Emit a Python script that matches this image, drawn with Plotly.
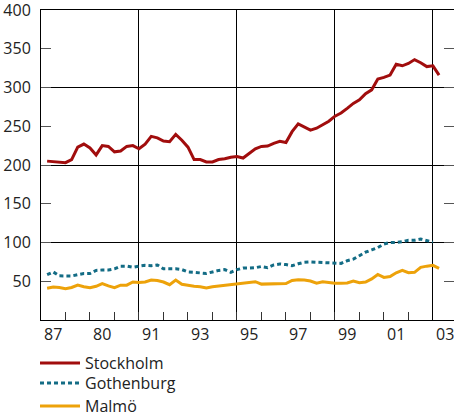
import plotly.graph_objects as go

# Quarterly data, 1987Q1 .. 2003Q1 (plotted at end of quarter)
start_year = 1987
stockholm = [205, 204.5, 204, 203, 207, 223, 227, 222, 213, 225, 224, 217, 218, 224, 225, 221,
             227, 237, 235, 231, 230, 239.5, 232, 223, 207, 207, 204, 204, 207, 208, 210, 211,
             209, 215, 221, 224, 224.5, 228, 230.5, 229, 243, 253, 249, 245, 247.5, 252, 256.5, 263,
             267, 273, 279.5, 284, 292, 297, 311, 313, 316, 330, 328, 331, 336, 332, 327, 328, 316]
gothenburg = [58.5, 62, 57, 56.5, 56.8, 58.5, 60, 60, 64, 64.5, 64.5, 66, 69.5, 69.5, 68, 69.5,
              70.5, 70, 71, 66, 66, 66, 65, 62, 61.5, 61, 60, 62, 64, 65, 61.5, 65,
              67, 67, 67.5, 69, 67.5, 71, 72.3, 71.5, 70, 72.5, 74.5, 75, 74.5, 74, 73.5, 72.7,
              73, 76.5, 78.5, 83, 87.5, 90.5, 93.5, 98, 100, 100, 101, 103, 103, 104.5, 102, 100.5]
malmo = [41, 42.5, 42, 40.5, 42, 45, 43, 41.7, 43.5, 47, 44, 41.7, 45, 45, 49, 48.5,
         49, 51.5, 51, 49, 45.5, 51.5, 46, 44.5, 43.5, 43, 41.3, 43, 44, 45, 45.5, 47.3,
         48, 48.8, 49.4, 46.3, 46.5, 47, 46.3, 47, 51, 52, 51.5, 50.3, 47.5, 49.4, 48.5, 47.3,
         47.5, 47.7, 50.3, 48, 49, 53, 58.7, 55, 56, 61, 64, 61, 61.5, 68, 69.5, 70.5, 66.7]

# note: the second label in the source reads "80"
x_label_years = [1987, 1989, 1991, 1993, 1995, 1997, 1999, 2001, 2003]
x_tick_labels = ["87", "80", "91", "93", "95", "97", "99", "01", "03"]
x_grid_years = [1991, 1995, 1999, 2003]
y_tick_values = [50, 100, 150, 200, 250, 300, 350, 400]
y_grid_values = [100, 200, 300]

n = len(stockholm)
t = [start_year + (i + 1) * 0.25 for i in range(n)]

x_range = [1987, 2003.86]
font = "Open Sans, Noto Sans, sans-serif"
txt = "#222222"

fig = go.Figure()
fig.add_trace(go.Scatter(x=t, y=stockholm, name="Stockholm", mode="lines",
                         line=dict(color="#a10d0d", width=3), legend="legend"))
fig.add_trace(go.Scatter(x=t, y=gothenburg, name="Gothenburg", mode="lines",
                         line=dict(color="#136c85", width=3, dash="4px,3px"),
                         legend="legend2"))
fig.add_trace(go.Scatter(x=t, y=malmo, name="Malmö", mode="lines", xaxis="x2",
                         line=dict(color="#eda20a", width=3), legend="legend3"))

leg_common = dict(x=-0.0145, xanchor="left", yanchor="middle",
                  font=dict(size=16, color=txt), itemwidth=40,
                  bgcolor="rgba(0,0,0,0)")

fig.update_layout(
    width=454, height=417,
    margin=dict(l=41, r=0, t=10, b=97, autoexpand=False),
    paper_bgcolor="white", plot_bgcolor="white",
    font=dict(family=font, size=16, color=txt),
    showlegend=True,
    legend=dict(y=-0.1387, **leg_common),
    legend2=dict(y=-0.2032, **leg_common),
    legend3=dict(y=-0.2774, **leg_common),
    xaxis=dict(
        range=x_range, tickmode="array", automargin=False, ticklabeloverflow="allow",
        tickvals=[y + 0.5 for y in x_label_years], ticktext=x_tick_labels,
        ticks="", showgrid=False, zeroline=False,
        showline=True, linecolor="black", linewidth=1, mirror=True,
        tickfont=dict(size=16, color=txt),
        minor=dict(tickmode="array", tickvals=list(range(1988, 2003)),
                   ticks="inside", ticklen=8, tickcolor="#333333", tickwidth=1,
                   showgrid=False),
    ),
    xaxis2=dict(
        range=x_range, overlaying="x", anchor="y", side="bottom", automargin=False,
        tickmode="array", tickvals=x_grid_years, showticklabels=False,
        ticks="", showgrid=True, gridcolor="black", gridwidth=1,
        zeroline=False, showline=False,
    ),
    yaxis=dict(
        range=[0, 400], tickmode="array", tickvals=y_tick_values, automargin=False,
        ticklabeloverflow="allow",
        ticktext=[str(v) for v in y_tick_values],
        ticks="inside", ticklen=10, tickcolor="#555555", tickwidth=1,
        showgrid=False, zeroline=False,
        showline=True, linecolor="black", linewidth=1, mirror="ticks",
        tickfont=dict(size=16, color=txt), ticklabelstandoff=6,
        minor=dict(tickmode="array", tickvals=y_grid_values, showgrid=True,
                   gridcolor="black", gridwidth=1, ticks=""),
    ),
)

fig.write_html("out.html", config={"displayModeBar": False},
               post_script="document.body.style.margin='0';")
